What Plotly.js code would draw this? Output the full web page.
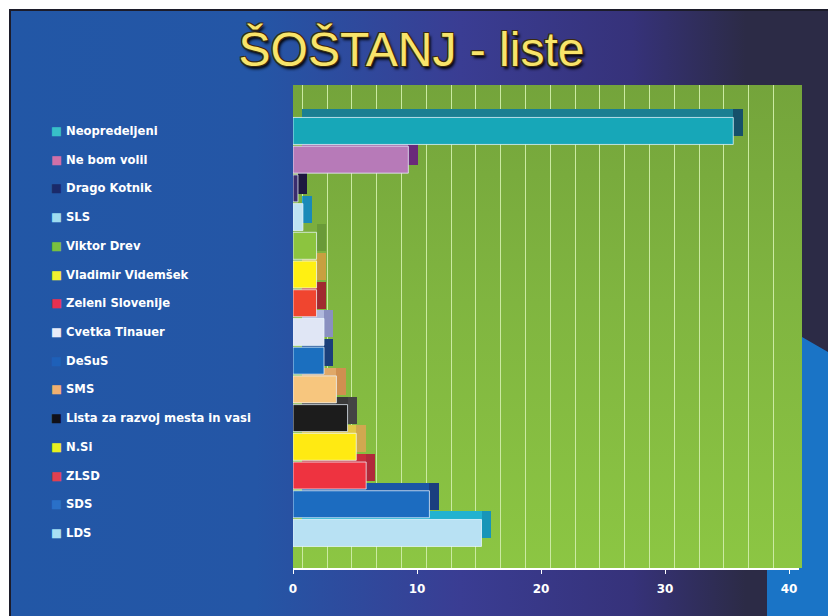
<!DOCTYPE html>
<html>
<head>
<meta charset="utf-8">
<script src="https://cdn.plot.ly/plotly-3.0.1.min.js"></script>
<style>
  html, body { margin:0; padding:0; background:#ffffff; }
  #wrap { position:relative; width:828px; height:616px; overflow:hidden; background:#ffffff; }
  #slide { position:absolute; left:9px; top:9px; right:0; bottom:0;
    border-left:2px solid #1c1c2a; border-top:2px solid #1c1c2a;
    background: linear-gradient(90deg, #2257a6 0%, #2456a6 30%, #3a3d93 55%, #36327a 76%, #2c2b46 90%, #2c2b46 100%); }
  #corner { position:absolute; left:0; top:0; width:828px; height:616px;
    background:#1a74c6;
    clip-path: polygon(802px 337px, 828px 352px, 828px 616px, 767px 616px, 767px 568px, 802px 568px); }
  #wall { position:absolute; left:293px; top:85px; width:509px; height:483px;
    background: linear-gradient(180deg, #74a43b 0%, #80b540 45%, #8cc643 100%); }
  #chart { position:absolute; left:0; top:0; width:828px; height:616px; }
</style>
</head>
<body>
<div id="wrap">
  <div id="slide"></div>
  <div id="corner"></div>
  <div id="wall"></div>
  <div id="chart"></div>
</div>
<script>
// ---- data ----
const categories = [
  "Neopredeljeni", "Ne bom volil", "Drago Kotnik", "SLS", "Viktor Drev",
  "Vladimir Videmšek", "Zeleni Slovenije", "Cvetka Tinauer", "DeSuS", "SMS",
  "Lista za razvoj mesta in vasi", "N.Si", "ZLSD", "SDS", "LDS"
];
const values = [35.5, 9.3, 0.4, 0.8, 1.9, 1.9, 1.9, 2.5, 2.5, 3.5, 4.4, 5.1, 5.9, 11.0, 15.2];
const tickValues = [0, 10, 20, 30, 40];

// ---- styles ----
const frontColors = ["#17a7b8", "#b77ab8", "#3a2d6e", "#bfe3f2", "#8cc43f",
  "#fff012", "#f0452f", "#e0e6f5", "#1b6fbf", "#f7c67e",
  "#1c1c1c", "#ffea12", "#ee3340", "#1c6cc0", "#b8e1f3"];
const topColors = ["#1a7f92", "#9a5aa0", "#2a2050", "#2aa8d0", "#7cae3e",
  "#d8c040", "#c83a30", "#b0b8dc", "#1b4f95", "#e0a868",
  "#3a3a3a", "#e0c848", "#c82e3c", "#1b55a5", "#22b2d0"];
const sideColors = ["#16506a", "#6a2a7a", "#1e1840", "#1a8ab8", "#6a9a38",
  "#c8a040", "#a02a30", "#8a90c0", "#1b3f7a", "#d08f50",
  "#444444", "#d0a850", "#b02a3a", "#1b3f7f", "#1795b8"];
const legendColors = ["#38c0c8", "#d070a8", "#1a2a6a", "#9fdcf0", "#7ac040",
  "#f0f030", "#e83050", "#e8ecf8", "#1e60b8", "#f0b070",
  "#101018", "#e8f020", "#e04050", "#2a70c8", "#a8e0f4"];

const depthX = 0.75;   // 3D depth in x units
const depthY = 0.28;   // 3D depth in category units
const barW = 0.94;

const n = categories.length;
const depthArr = categories.map(() => depthX);

const topTrace = {
  type: "bar", orientation: "h",
  y: categories, x: values, base: depthArr,
  width: barW, offset: -barW / 2 - depthY,
  marker: { color: topColors, line: { width: 0 } },
  hoverinfo: "skip", showlegend: false
};
const sideTrace = {
  type: "bar", orientation: "h",
  y: categories, x: depthArr, base: values,
  width: barW, offset: -barW / 2 - depthY,
  marker: { color: sideColors, line: { width: 0 } },
  hoverinfo: "skip", showlegend: false
};
const frontTrace = {
  type: "bar", orientation: "h",
  y: categories, x: values,
  width: barW,
  marker: { color: frontColors, line: { color: "rgba(235,245,255,0.75)", width: 1 } },
  showlegend: false,
  hovertemplate: "%{y}: %{x}<extra></extra>"
};

const fontFam = "DejaVu Sans, Verdana, sans-serif";

const annotations = categories.map((c, i) => ({
  xref: "paper", yref: "y",
  x: -0.483, y: c,
  xanchor: "left", yanchor: "middle",
  text: '<span style="color:' + legendColors[i] + '">■</span> ' + c,
  showarrow: false,
  font: { family: fontFam, size: 11.6, color: "#ffffff", weight: "bold" }
}));

const layout = {
  width: 828, height: 616,
  margin: { l: 293, r: 29, t: 85, b: 48 },
  paper_bgcolor: "rgba(0,0,0,0)",
  plot_bgcolor: "rgba(0,0,0,0)",
  barmode: "overlay",
  bargap: 0,
  title: {
    text: "ŠOŠTANJ - liste",
    x: 0.497, xref: "container", xanchor: "center",
    y: 0.92, yref: "container", yanchor: "middle",
    font: { family: "Liberation Sans, Arial, sans-serif", size: 48, color: "#f8e46a",
      shadow: "1px 1px 0 #3a2a10, -1px -1px 0 #3a2a10, 1px -1px 0 #3a2a10, -1px 1px 0 #3a2a10, 2px 3px 3px #000" }
  },
  xaxis: {
    range: [0, 40.8],
    tickmode: "array", tickvals: tickValues,
    showgrid: false, zeroline: false,
    showline: true, linecolor: "#ffffff", linewidth: 2,
    ticks: "outside", ticklen: 4, tickcolor: "#ffffff",
    ticklabelstandoff: 5,
    tickfont: { family: fontFam, size: 12, color: "#ffffff", weight: "bold" },
    minor: { tick0: depthX, dtick: 2, showgrid: true, gridcolor: "#cbeaa2", gridwidth: 1, ticks: "" },
    fixedrange: true
  },
  yaxis: {
    type: "category", categoryarray: categories, categoryorder: "array",
    range: [n - 1 + 1.22, -1.6],
    showticklabels: false, showgrid: false, zeroline: false, showline: false,
    fixedrange: true
  },
  annotations: annotations
};

Plotly.newPlot("chart", [topTrace, sideTrace, frontTrace], layout, { displayModeBar: false, staticPlot: true });
</script>
</body>
</html>
